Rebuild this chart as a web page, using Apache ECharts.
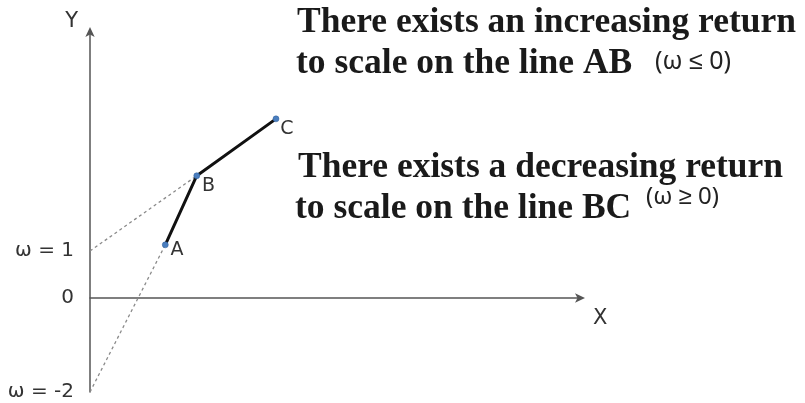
<!DOCTYPE html>
<html>
<head>
<meta charset="utf-8">
<script src="https://cdn.jsdelivr.net/npm/echarts@6/dist/echarts.min.js"></script>
<style>html,body{margin:0;padding:0;background:#fff}#c{width:805px;height:403px}</style>
</head>
<body>
<div id="c"></div>
<script>
// Points of the production frontier (schematic units)
var pointNames = ['A', 'B', 'C'];
var pointX = [1.53, 2.17, 3.78];
var pointY = [1.13, 2.60, 3.81];
// Y-axis intercepts of the tangent (dotted) lines
var interceptValues = [1, -2];
var interceptTargets = ['B', 'A'];
// Y-axis tick labels
var tickValues = [-2, 0, 1];
var tickLabels = ['ω = -2', '0', 'ω = 1'];
// Annotation text
var noteLines1 = ['There exists an increasing return', 'to scale on the line AB'];
var noteCond1 = '(ω ≤ 0)';
var noteLines2 = ['There exists a decreasing return', 'to scale on the line BC'];
var noteCond2 = '(ω ≥ 0)';
var axisNames = ['X', 'Y'];

var chart = echarts.init(document.getElementById('c'));

var frontier = pointNames.map(function (n, i) { return { name: n, value: [pointX[i], pointY[i]] }; });
var dotted = interceptValues.map(function (v, i) {
  var k = pointNames.indexOf(interceptTargets[i]);
  return {
    type: 'line', symbol: 'none', silent: true, z: 1,
    lineStyle: { color: '#8a8a8a', width: 1.3, type: [3, 3] },
    data: [[0, v], [pointX[k], pointY[k]]]
  };
});
var labelOffsets = { A: [2, 5], B: [2, 10], C: [1, 10] };

var serif = 'bold 35.5px "Liberation Serif", "Times New Roman", serif';
var sans = '"DejaVu Sans", "Noto Sans", sans-serif';

function txt(x, y, text, font, color) {
  return { type: 'text', x: x, y: y, style: { text: text, font: font, fill: color, verticalAlign: 'middle', align: 'left' } };
}

chart.setOption({
  animation: false,
  backgroundColor: '#fff',
  grid: { left: 90, right: 223, top: 30, bottom: 11 },
  xAxis: {
    type: 'value', min: 0, max: 10,
    name: axisNames[0], nameLocation: 'end', nameGap: 11,
    nameTextStyle: { fontFamily: sans, fontSize: 21, color: '#333', verticalAlign: 'top', lineHeight: 21, padding: [10, 0, 0, 0] },
    axisLine: { show: true, symbol: ['none', 'arrow'], symbolSize: [7, 10], symbolOffset: [0, 3], lineStyle: { color: '#555', width: 1.5 } },
    axisTick: { show: false }, axisLabel: { show: false }, splitLine: { show: false }
  },
  yAxis: {
    type: 'value', min: -2, max: 5.7,
    name: axisNames[1], nameLocation: 'end', nameGap: -2,
    nameTextStyle: { fontFamily: sans, fontSize: 21, color: '#333', align: 'right', padding: [0, 12, 0, 0] },
    axisLine: { show: true, onZero: false, symbol: ['none', 'arrow'], symbolSize: [7, 10], symbolOffset: [0, 3], lineStyle: { color: '#555', width: 1.5 } },
    axisTick: { show: false },
    axisLabel: {
      show: true, customValues: tickValues, margin: 16,
      fontFamily: sans, fontSize: 20, color: '#333',
      formatter: function (v) { var i = tickValues.indexOf(v); return i >= 0 ? tickLabels[i] : ''; }
    },
    splitLine: { show: false }
  },
  series: dotted.concat([{
    type: 'line', z: 3,
    data: frontier,
    symbol: 'circle', symbolSize: 6,
    itemStyle: { color: '#4a7ebf', borderColor: '#2f5f9a', borderWidth: 0.5 },
    lineStyle: { color: '#111', width: 3 },
    label: {
      show: true, position: 'right', distance: 0,
      fontFamily: sans, fontSize: 19, color: '#333',
      formatter: function (p) { return p.name; }
    },
    labelLayout: function (p) {
      var n = frontier[p.dataIndex].name;
      var o = labelOffsets[n];
      return { dx: o[0], dy: o[1] };
    }
  }]),
  graphic: [
    txt(297, 23, noteLines1[0], serif, '#1a1a1a'),
    txt(296, 64, noteLines1[1], serif, '#1a1a1a'),
    txt(655, 62, noteCond1, '25px "Noto Sans", sans-serif', '#222'),
    txt(298, 168, noteLines2[0], serif, '#1a1a1a'),
    txt(295, 209, noteLines2[1], serif, '#1a1a1a'),
    txt(646, 197, noteCond2, '24px "Noto Sans", sans-serif', '#222')
  ]
});
</script>
</body>
</html>
